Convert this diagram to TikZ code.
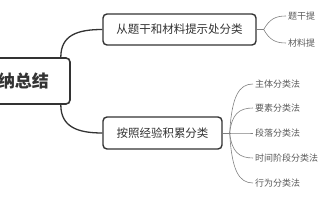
\documentclass[tikz,border=0pt]{standalone}
\usepackage{fontspec}
\setmainfont{Noto Sans CJK SC}
\usetikzlibrary{positioning}
\definecolor{boxline}{HTML}{333333}
\definecolor{leaftext}{HTML}{595959}
\tikzset{
  topic/.style={draw=boxline, line width=1.4pt, rounded corners=4pt, text=boxline,
    font=\fontsize{11.5}{12}\selectfont, inner xsep=0pt, minimum height=31pt},
  leaf/.style={text=leaftext, font=\fontsize{9}{10}\selectfont, inner sep=2pt, anchor=west},
  branch/.style={draw=boxline, line width=1.3pt},
  twig/.style={draw=gray, line width=0.6pt}
}
\begin{document}
\begin{tikzpicture}[x=1pt, y=-1pt]
\useasboundingbox (0,0) rectangle (319,200);
% main topics
\node[topic, line width=1.6pt, minimum width=110pt, minimum height=46pt,
  font=\bfseries\fontsize{17}{18}\selectfont] (root) at (15,81) {归纳总结};
\node[topic, minimum width=153pt] (cat1) at (179.5,29.5) {从题干和材料提示处分类};
\node[topic, minimum width=119pt, minimum height=32pt] (cat2) at (162.5,133) {按照经验积累分类};

\coordinate (r1) at ([xshift=-10pt]root.north east);
\coordinate (r2) at ([xshift=-10pt]root.south east);
\draw[branch] (r1) .. controls +(0,-22) and +(-25,0) .. (cat1.west);
\draw[branch] (r2) .. controls +(0,22) and +(-25,0) .. (cat2.west);

% first group
\coordinate (h1) at ([xshift=7pt]cat1.east);
\draw[twig] (cat1.east) -- (h1);
\foreach \name/\txt/\dy in {a/题干提/-13.5, b/材料提/13.5}{
  \node[leaf] (t\name) at (286,{29.5+\dy}) {\txt};
  \draw[twig] (h1) .. controls +(6,{0.8*\dy}) and +(-10,0) .. (t\name.west);
}

% second group
\coordinate (h2) at ([xshift=7pt]cat2.east);
\draw[twig] (cat2.east) -- (h2);
\foreach \name/\txt/\dy in {p/主体分类法/-49, q/要素分类法/-25, r/段落分类法/0, s/时间阶段分类法/25, t/行为分类法/50}{
  \node[leaf] (l\name) at (253,{133+\dy}) {\txt};
  \draw[twig] (h2) .. controls +(2,{0.75*\dy}) and +(-14,0) .. (l\name.west);
}
\end{tikzpicture}
\end{document}
